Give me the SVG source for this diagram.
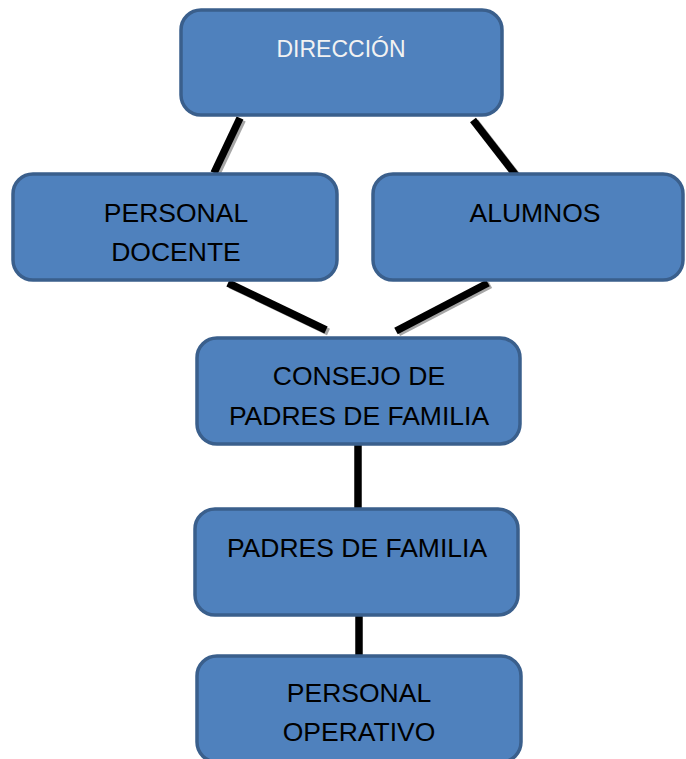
<svg xmlns="http://www.w3.org/2000/svg" width="686" height="759" viewBox="0 0 686 759">
<style>
.box{fill:#4F81BD;stroke:#3A5F8C;stroke-width:3.5}
.t{font-family:"Liberation Sans",Arial,sans-serif;font-size:26.5px;fill:#000;text-anchor:middle}
.tw{font-family:"Liberation Sans",Arial,sans-serif;font-size:23px;fill:#F2F2F2;text-anchor:middle}
.ln{stroke:#000;stroke-width:7.5;fill:none}
.sh{stroke:#A6A6A6;stroke-width:7;fill:none}
</style>
<rect width="686" height="759" fill="#fff"/>
<g id="connectors">
<g transform="translate(2.5,2)">
<line class="sh" x1="240" y1="118" x2="214" y2="173"/>
<line class="sh" x1="473" y1="120" x2="518" y2="178"/>
<line class="sh" x1="228" y1="283" x2="326" y2="330"/>
<line class="sh" x1="488" y1="283" x2="396" y2="331"/>
</g>
<line class="ln" x1="240" y1="118" x2="214" y2="173"/>
<line class="ln" x1="473" y1="120" x2="518" y2="178"/>
<line class="ln" x1="228" y1="283" x2="326" y2="330"/>
<line class="ln" x1="488" y1="283" x2="396" y2="331"/>
<line class="ln" x1="358" y1="445" x2="358" y2="510"/>
<line class="ln" x1="359" y1="616" x2="359" y2="656"/>
</g>
<g id="direccion">
<rect class="box" x="181" y="10" width="321" height="105" rx="20"/>
<text class="tw" x="341" y="57">DIRECCIÓN</text>
</g>
<g id="personal-docente">
<rect class="box" x="13" y="174" width="324" height="106" rx="20"/>
<text class="t" x="176" y="222">PERSONAL</text>
<text class="t" x="176" y="261">DOCENTE</text>
</g>
<g id="alumnos">
<rect class="box" x="373" y="174" width="310" height="106" rx="20"/>
<text class="t" x="535" y="222">ALUMNOS</text>
</g>
<g id="consejo">
<rect class="box" x="197" y="338" width="323" height="106" rx="20"/>
<text class="t" x="359" y="385">CONSEJO DE</text>
<text class="t" x="359" y="425">PADRES DE FAMILIA</text>
</g>
<g id="padres">
<rect class="box" x="195" y="509" width="323" height="106" rx="20"/>
<text class="t" x="357" y="557">PADRES DE FAMILIA</text>
</g>
<g id="personal-operativo">
<rect class="box" x="197" y="656" width="324" height="106" rx="20"/>
<text class="t" x="359" y="702">PERSONAL</text>
<text class="t" x="359" y="741">OPERATIVO</text>
</g>
</svg>
